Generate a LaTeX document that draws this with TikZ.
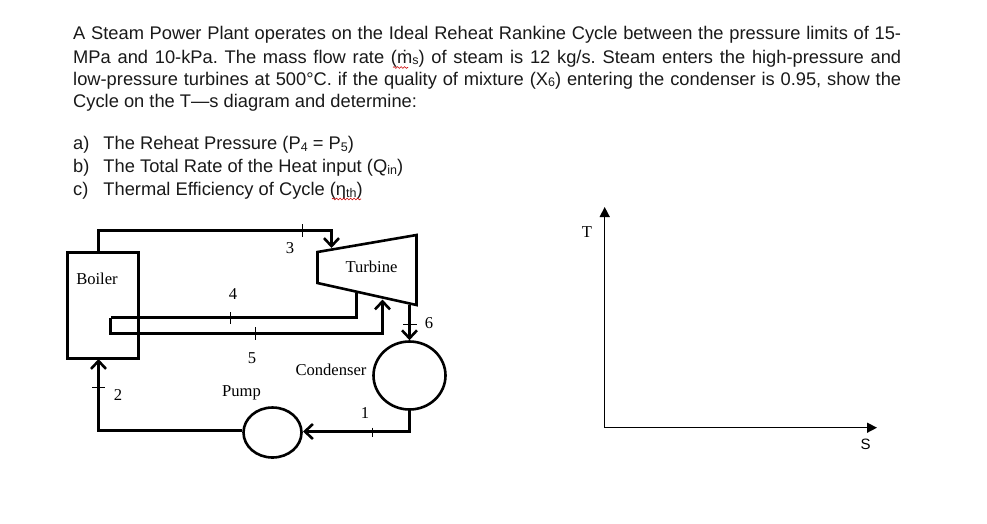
\documentclass[tikz,border=0pt]{standalone}
\usepackage{fontspec}
\setmainfont{Liberation Sans}
\newfontfamily\diagfont{Liberation Serif}
\usetikzlibrary{arrows.meta,shapes.geometric,decorations.pathmorphing}
\newcommand{\lowtxt}[1]{\raisebox{-1.5pt}{\fontsize{12.5}{13}\selectfont #1}}
\frenchspacing
\tikzset{
  x=1pt,y=-1pt,
  textline/.style={anchor=base west,inner sep=0pt,font=\fontsize{18.3}{20}\selectfont,text=black!90},
  diaglabel/.style={inner sep=0pt,font=\diagfont\fontsize{16.6}{18}\selectfont},
  pipe/.style={line width=2.6pt,line join=miter},
  flow/.style={pipe,-{Straight Barb[length=8pt,width=15pt,line width=2.6pt]}},
  tick/.style={line width=0.8pt},
  axis/.style={line width=1.5pt,-{Triangle[length=10pt,width=10pt]}},
  vessel/.style={draw,line width=2.6pt,inner sep=0pt},
  squiggle/.style={draw=red!80!black,line width=0.6pt,decorate,decoration={snake,amplitude=0.9pt,segment length=3.5pt}}
}
\newcommand{\fitline}[1]{\makebox[828pt][s]{#1}}
\begin{document}
\begin{tikzpicture}
\useasboundingbox (0,0) rectangle (987,523);
% question text
\node[textline] (l1) at (73,39) {\fitline{A Steam Power Plant operates on the Ideal Reheat Rankine Cycle between the pressure limits of 15-}};
\node[textline] (l2) at (73,63) {\fitline{MPa and 10-kPa. The mass flow rate (\.m\lowtxt{s}) of steam is 12 kg/s. Steam enters the high-pressure and}};
\node[textline] (l3) at (73,85) {\fitline{low-pressure turbines at 500°C. if the quality of mixture (X\lowtxt{6}) entering the condenser is 0.95, show the}};
\node[textline] (l4) at (73,107) {Cycle on the T—s diagram and determine:};
\node[textline] (a) at (73,149.5) {a)\hspace{14pt}The Reheat Pressure (P\lowtxt{4} = P\lowtxt{5})};
\node[textline] (b) at (73,172.5) {b)\hspace{14pt}The Total Rate of the Heat input (Q\lowtxt{in})};
\node[textline] (c) at (73,195.5) {c)\hspace{15pt}Thermal Efficiency of Cycle (η\lowtxt{th})};
\draw[squiggle] (393,67.5) -- (408,67.5);
\draw[squiggle] (332,199) -- (361,199);
% equipment
\node[vessel,rectangle,minimum width=71pt,minimum height=106pt] (boiler) at (103,305.5) {};
\node[vessel,ellipse,minimum width=72pt,minimum height=68pt] (condenser) at (409.5,375.5) {};
\node[vessel,ellipse,minimum width=58pt,minimum height=50pt] (pump) at (272.5,432.5) {};
\coordinate (ta) at (317.5,252); \coordinate (tb) at (416.5,235);
\coordinate (tc) at (416.5,305); \coordinate (td) at (317.5,283);
\draw[pipe] (ta) -- (tb) -- (tc) -- (td) -- cycle;
% pipe way points
\coordinate (b3) at (98.5,252); \coordinate (p3a) at (98.5,230.5); \coordinate (p3b) at (331.5,230.5); \coordinate (t3) at (331.5,248);
\coordinate (t4) at (356.5,293); \coordinate (p4a) at (356.5,317.5); \coordinate (p4b) at (110.5,317.5);
\coordinate (p5a) at (110.5,333.5); \coordinate (p5b) at (382.5,333.5); \coordinate (t5) at (382.5,299.5);
\coordinate (t6) at (409.5,305);
\coordinate (p1a) at (409.5,431.5); \coordinate (p1b) at (303,431.5);
\coordinate (p2a) at (98.5,430.5); \coordinate (b2) at (98.5,359);
% connectors
\draw[flow] (b3) -- (p3a) -- (p3b) -- (t3);
\draw[pipe] (t4) -- (p4a) -- (p4b);
\draw[flow] (p4b) -- (p5a) -- (p5b) -- (t5);
\draw[flow] (t6) -- (condenser.north);
\draw[flow] (condenser.south) -- (p1a) -- (p1b);
\draw[flow] (pump.west |- p2a) -- (p2a) -- (b2);
% state ticks
\coordinate (k3a) at (302,224); \coordinate (k3b) at (302,237);
\coordinate (k4a) at (230,312); \coordinate (k4b) at (230,324);
\coordinate (k5a) at (255.7,327); \coordinate (k5b) at (255.7,340);
\coordinate (k6a) at (403,324.3); \coordinate (k6b) at (417,324.3);
\coordinate (k1a) at (372,427.7); \coordinate (k1b) at (372,436.7);
\coordinate (k2a) at (92,387); \coordinate (k2b) at (105,387);
\foreach \k in {3,4,5,6,1,2} \draw[tick] (k\k a) -- (k\k b);
% labels
\node[diaglabel] (lboiler) at (97,278.5) {Boiler};
\node[diaglabel] (lturbine) at (371.5,266.5) {Turbine};
\node[diaglabel] (lcond) at (331,370) {Condenser};
\node[diaglabel] (lpump) at (241.5,393) {Pump};
\node[diaglabel] (n3) at (290,248.5) {3};
\node[diaglabel] (n4) at (233,294.5) {4};
\node[diaglabel] (n5) at (252,358.5) {5};
\node[diaglabel] (n6) at (429,323.5) {6};
\node[diaglabel] (n2) at (118,394.5) {2};
\node[diaglabel] (n1) at (365,413) {1};
% T-s axes
\coordinate (o) at (604.7,427.7); \coordinate (ty) at (604.7,207); \coordinate (sx) at (877,427.7);
\draw[axis] (o) -- (ty);
\draw[axis] (o) -- (sx);
\node[diaglabel] (lT) at (587,232) {T};
\node[inner sep=0pt,font=\fontsize{15}{16}\selectfont] (lS) at (865.5,444) {S};
\end{tikzpicture}
\end{document}
